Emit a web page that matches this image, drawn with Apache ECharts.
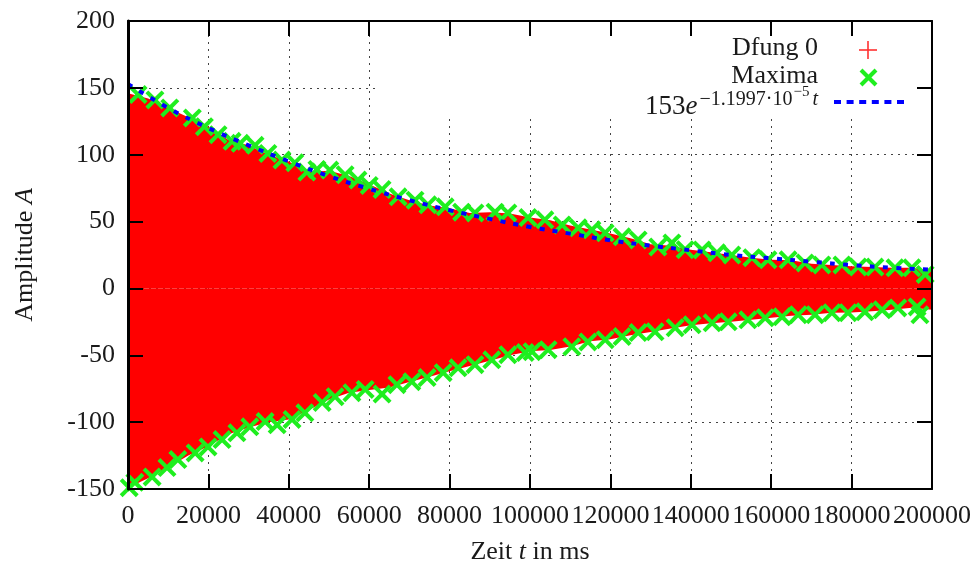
<!DOCTYPE html>
<html>
<head>
<meta charset="utf-8">
<script src="https://cdn.jsdelivr.net/npm/echarts@6/dist/echarts.min.js"></script>
<style>html,body{margin:0;padding:0;background:#fff}#c{width:977px;height:571px}</style>
</head>
<body>
<div id="c"></div>
<script>
// ---- data ----
const xTicks = [0, 20000, 40000, 60000, 80000, 100000, 120000, 140000, 160000, 180000, 200000];
const yTicks = [-150, -100, -50, 0, 50, 100, 150, 200];

// envelope of the dense oscillation "Dfung 0" (red), sampled every 5000 ms
const bandT  = [0,5000,10000,15000,20000,25000,30000,35000,40000,45000,50000,55000,60000,65000,70000,75000,80000,85000,90000,95000,100000,105000,110000,115000,120000,125000,130000,135000,140000,145000,150000,155000,160000,165000,170000,175000,180000,185000,190000,195000,200000];
const bandHi = [146,142,135,128,121,111,107,100,95,87,88,84,78,71,66,62,60,56.5,57,56,53,51,47,44,41,37.5,33,32,29,27,25,23,21.5,21,18.5,17.6,16.5,16,15.5,15.4,13];
const bandLo = [-149,-142,-134,-125,-118,-109,-104,-100,-98,-91,-83,-78,-76,-74,-70,-66,-62,-58,-54,-50,-47,-46,-43.5,-39.5,-38,-35,-32.5,-30,-27.5,-26,-25,-23.5,-22,-20.5,-19.7,-18.2,-18,-17,-16,-14.5,-16];

// "Maxima" (green crosses), upper and lower envelope
const maxUpT = [2500,6700,10400,16000,19000,22400,25900,27900,31600,34800,38300,41500,44500,47000,50200,54000,57200,60000,63200,67200,71400,74600,78900,83000,86300,91300,94500,99500,103700,108000,112000,115400,118700,122900,126900,131800,135300,138600,142800,146500,150200,155200,159200,164200,168400,172600,177600,181600,185800,190800,195000,198300];
const maxUpV = [145,141,135,127.5,121,115,110,108.5,107,101,96,94,87,89,88.5,85,81,77,74,68.5,66,62.5,61,57,56.5,57,56.5,53,51.3,47.5,45.3,43.8,41.6,38.6,36.3,31,34,29,28.8,26.6,25,23,21.4,21.4,19.1,17.6,17.6,16.1,16,15.4,15.4,10.5];
const maxLoT = [300,1700,6000,9700,12400,16700,19900,23400,27100,30300,34100,37100,40800,44000,48300,51500,55700,59000,63200,66900,70600,74400,78400,82100,86300,90500,94500,98800,100500,104500,110400,114400,118700,122900,126900,131100,136100,140300,145300,149300,154200,158500,162700,166700,170900,175100,179100,183300,187600,191500,196300,197000];
const maxLoV = [-149,-145,-141,-134,-128,-123,-118.5,-113,-108,-103.5,-99.6,-102,-98,-93,-85.3,-81,-78,-75.5,-79,-72,-69.7,-66.7,-63,-59.4,-57,-53.4,-49.6,-48,-47.3,-45.8,-43.6,-40,-38.4,-36,-33,-32.4,-29.4,-27.2,-25.7,-25,-23.5,-22,-21.2,-19.7,-19.7,-18.2,-18.2,-17.5,-16,-14.6,-13.8,-19.7];

// fitted curve 153e^{-1.1997e-5 t} (blue dotted)
const fitT = [0,10000,20000,30000,40000,50000,60000,70000,80000,90000,100000,110000,120000,130000,140000,150000,160000,170000,180000,190000,200000];
const fitV = [153,135,120,107,95,84,74.5,66,58.5,52,46,41,36,32,28.5,25,22.5,20,17.5,15.5,14];

const legendLabels = ['Dfung 0', 'Maxima'];
const fitLabelParts = ['153', 'e', '\u22121.1997\u00b710', '\u22125', 't'];

// ---- chart ----
const FONT = "'Liberation Serif', 'DejaVu Serif', serif";
const TXT = '#1a1a1a';
const zip = (a, b) => a.map((v, i) => [v, b[i]]);
const xMin = xTicks[0], xMax = xTicks[xTicks.length - 1], xStep = xTicks[1] - xTicks[0];
const yMin = yTicks[0], yMax = yTicks[yTicks.length - 1], yStep = yTicks[1] - yTicks[0];
const X_PATH = 'path://M3,0L10,7L17,0L20,3L13,10L20,17L17,20L10,13L3,20L0,17L7,10L0,3Z';
const GREEN = '#1fee1f';

const mctx = document.createElement('canvas').getContext('2d');
const tw = (txt, font) => { mctx.font = font; return mctx.measureText(txt).width; };
const F_MAIN = '27px ' + FONT, F_MAINI = 'italic 27px ' + FONT;
const F_SUP = '20px ' + FONT, F_SUPI = 'italic 20px ' + FONT, F_SS = '15px ' + FONT;
const w0 = tw(fitLabelParts[0], F_MAIN), w1 = tw(fitLabelParts[1], F_MAINI) + 2;
const w2 = tw(fitLabelParts[2], F_SUP) + 1, w3 = tw(fitLabelParts[3], F_SS) + 3, w4 = tw(fitLabelParts[4], F_SUPI);
const lx0 = 818 - (w0 + w1 + w2 + w3 + w4);
const lx1 = lx0 + w0, lx2 = lx1 + w1, lx3 = lx2 + w2, lx4 = lx3 + w3;

const chart = echarts.init(document.getElementById('c'), null, {renderer: 'canvas'});
const gridBox = {left: 128, right: 45, top: 21, bottom: 82};

const mainAxisX = (pos, showLabel) => ({
  type: 'value', gridIndex: 0, position: pos, min: xMin, max: xMax, interval: xStep, z: 10,
  axisLine: {show: true, onZero: false, lineStyle: {color: '#000', width: 2}},
  axisTick: {show: true, inside: true, length: 15, lineStyle: {color: '#000', width: 2}},
  axisLabel: {show: showLabel, margin: 14, color: TXT, fontFamily: FONT, fontSize: 26, interval: 0,
              hideOverlap: false, showMinLabel: true, showMaxLabel: true, formatter: v => String(v)},
  splitLine: {show: false}
});
const mainAxisY = (pos, showLabel, w) => ({
  type: 'value', gridIndex: 0, position: pos, min: yMin, max: yMax, interval: yStep, z: 10,
  axisLine: {show: true, onZero: false, lineStyle: {color: '#000', width: w}},
  axisTick: {show: true, inside: true, length: 15, lineStyle: {color: '#000', width: 2}},
  axisLabel: {show: showLabel, margin: 13, color: TXT, fontFamily: FONT, fontSize: 26, formatter: v => String(v)},
  splitLine: {show: false}
});
const gridLine = {show: true, lineStyle: {color: '#444', width: 1, type: [2, 5]}};

const xa0 = mainAxisX('bottom', true);
xa0.name = '{r|Zeit }{i|t}{r| in ms}';
xa0.nameLocation = 'middle';
xa0.nameGap = 50;
xa0.nameTextStyle = {rich: {r: {fontFamily: FONT, fontSize: 26, color: TXT}, i: {fontFamily: FONT, fontSize: 26, color: TXT, fontStyle: 'italic'}}};
const ya0 = mainAxisY('left', true, 3);
ya0.name = '{r|Amplitude }{i|A}';
ya0.nameLocation = 'middle';
ya0.nameGap = 90;
ya0.nameTextStyle = {rich: {r: {fontFamily: FONT, fontSize: 26, color: TXT}, i: {fontFamily: FONT, fontSize: 26, color: TXT, fontStyle: 'italic'}}};

const txt = (x, y, s, font, align) => ({type: 'text', z: 20, x: x, y: y, silent: true,
  style: {text: s, font: font, fill: TXT, align: align || 'left', verticalAlign: 'middle'}});

const option = {
  animation: false,
  backgroundColor: '#fff',
  grid: [Object.assign({}, gridBox), Object.assign({}, gridBox)],
  xAxis: [
    xa0,
    mainAxisX('top', false),
    {type: 'value', gridIndex: 1, min: xMin, max: xMax, interval: xStep, z: 0,
     axisLine: {show: false}, axisTick: {show: false}, axisLabel: {show: false}, splitLine: gridLine}
  ],
  yAxis: [
    ya0,
    mainAxisY('right', false, 2),
    {type: 'value', gridIndex: 1, min: yMin, max: yMax, interval: yStep, z: 0,
     axisLine: {show: false}, axisTick: {show: false}, axisLabel: {show: false}, splitLine: gridLine}
  ],
  series: [
    {name: 'Dfung 0', type: 'line', xAxisIndex: 0, yAxisIndex: 0, z: 2, data: zip(bandT, bandHi),
     symbol: 'none', lineStyle: {width: 0}, areaStyle: {color: '#ff0000', opacity: 1, origin: 0}},
    {name: 'Dfung 0 neg', type: 'line', xAxisIndex: 0, yAxisIndex: 0, z: 2, data: zip(bandT, bandLo),
     symbol: 'none', lineStyle: {width: 0}, areaStyle: {color: '#ff0000', opacity: 1, origin: 0}},
    {name: 'Maxima', type: 'scatter', xAxisIndex: 0, yAxisIndex: 0, z: 3, symbol: X_PATH, symbolSize: 19,
     itemStyle: {color: GREEN, opacity: 1}, data: zip(maxUpT, maxUpV).concat(zip(maxLoT, maxLoV))},
    {name: 'fit', type: 'line', xAxisIndex: 0, yAxisIndex: 0, z: 4, smooth: true, symbol: 'none',
     lineStyle: {color: '#0000ff', width: 4, type: [5, 8.3], cap: 'butt'}, data: zip(fitT, fitV)}
  ],
  graphic: [
    {type: 'rect', z: 1, silent: true, shape: {x: 380, y: 22, width: 551, height: 96}, style: {fill: '#fff'}},
    txt(818, 48, legendLabels[0], '26px ' + FONT, 'right'),
    txt(818, 76, legendLabels[1], '26px ' + FONT, 'right'),
    {type: 'line', z: 20, shape: {x1: 859, y1: 50, x2: 877, y2: 50}, style: {stroke: '#ff3030', lineWidth: 1.6}},
    {type: 'line', z: 20, shape: {x1: 868, y1: 41, x2: 868, y2: 59}, style: {stroke: '#ff3030', lineWidth: 1.6}},
    {type: 'line', z: 20, shape: {x1: 861, y1: 70, x2: 876, y2: 85}, style: {stroke: GREEN, lineWidth: 4}},
    {type: 'line', z: 20, shape: {x1: 876, y1: 70, x2: 861, y2: 85}, style: {stroke: GREEN, lineWidth: 4}},
    txt(lx0, 107, fitLabelParts[0], F_MAIN),
    txt(lx1, 107, fitLabelParts[1], F_MAINI),
    txt(lx2, 100, fitLabelParts[2], F_SUP),
    txt(lx3, 92, fitLabelParts[3], F_SS),
    txt(lx4, 100, fitLabelParts[4], F_SUPI),
    {type: 'line', z: 20, shape: {x1: 834, y1: 102, x2: 904, y2: 102}, style: {stroke: '#0000ff', lineWidth: 4, lineDash: [7, 5.6]}}
  ]
};
chart.setOption(option);
</script>
</body>
</html>
